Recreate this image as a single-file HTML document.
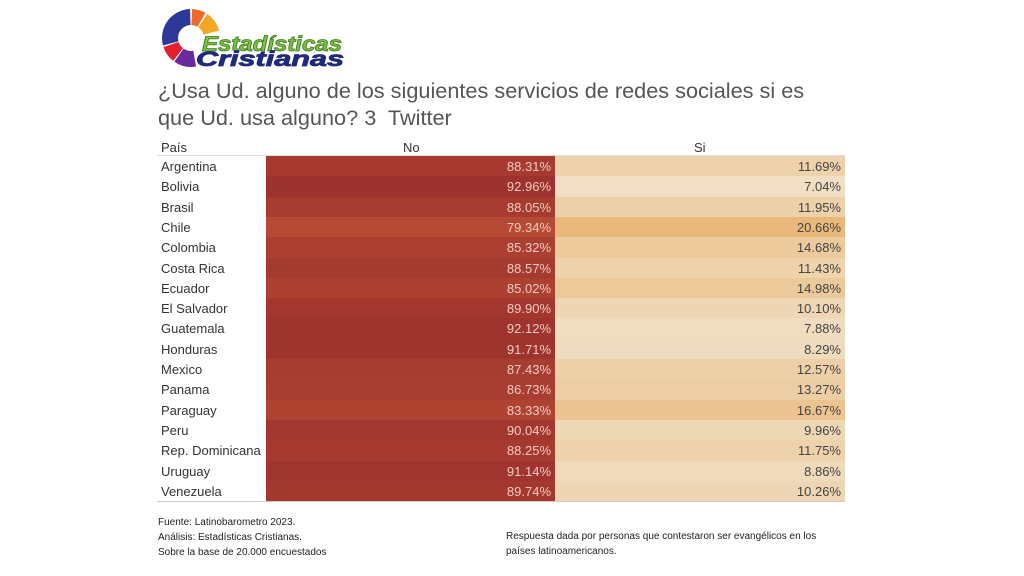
<!DOCTYPE html>
<html><head><meta charset="utf-8">
<style>
html,body{margin:0;padding:0;background:#fff;}
body{width:1024px;height:576px;position:relative;overflow:hidden;font-family:"Liberation Sans",sans-serif;}
.title{position:absolute;left:158px;top:77px;font-size:21.7px;line-height:27px;color:#555;white-space:nowrap;}
.hdr{position:absolute;top:140px;font-size:13px;color:#333;}
.row{position:absolute;left:157px;width:688px;font-size:13px;}
.c{position:absolute;left:4px;top:3px;color:#333;}
.no{position:absolute;left:109px;width:289px;height:100%;}
.si{position:absolute;left:398px;width:290px;height:100%;}
.no span,.si span{position:absolute;right:4px;top:3px;}
.no span{color:#f2c9c0;}
.si span{color:#444;}
.foot{position:absolute;font-size:10px;line-height:15px;color:#222;}
</style></head><body>
<svg style="position:absolute;left:0;top:0" width="360" height="75">
<g transform="translate(191,38)"></g>
<text x="202" y="51" font-family="Liberation Sans" font-weight="bold" font-style="italic" font-size="21" fill="#7cc242" stroke="#3a7a1a" stroke-width="0.8" textLength="140" lengthAdjust="spacingAndGlyphs">Estadísticas</text>
<text x="196" y="66" font-family="Liberation Sans" font-weight="bold" font-style="italic" font-size="21" fill="#1f2a7a" stroke="#1f2a7a" stroke-width="0.8" textLength="148" lengthAdjust="spacingAndGlyphs">Cristianas</text>
</svg>
<div class="title">¿Usa Ud. alguno de los siguientes servicios de redes sociales si es<br>que Ud. usa alguno? 3&nbsp; Twitter</div>
<div class="hdr" style="left:161px">País</div>
<div class="hdr" style="left:403px">No</div>
<div class="hdr" style="left:694px">Si</div>
<div style="position:absolute;left:157px;top:155px;width:688px;height:1px;background:#ddd"></div>
<div id="tbl"></div>
<div style="position:absolute;left:157px;top:501px;width:688px;height:1px;background:#ccc"></div>
<div class="foot" style="left:158px;top:515px">Fuente: Latinobarometro 2023.<br>Análisis: Estadísticas Cristianas.<br>Sobre la base de 20.000 encuestados</div>
<div class="foot" style="left:506px;top:529px">Respuesta dada por personas que contestaron ser evangélicos en los<br>países latinoamericanos.</div>
<script>
function arc(a0,a1,r0,r1,col){
 const R=Math.PI/180,p=(r,a)=>[(r*Math.cos(a*R)).toFixed(2),(r*Math.sin(a*R)).toFixed(2)];
 const [x0,y0]=p(r1,a0),[x1,y1]=p(r1,a1),[x2,y2]=p(r0,a1),[x3,y3]=p(r0,a0);
 const l=(a1-a0)>180?1:0;
 return `<path d="M${x0},${y0}A${r1},${r1} 0 ${l} 1 ${x1},${y1}L${x2},${y2}A${r0},${r0} 0 ${l} 0 ${x3},${y3}Z" fill="${col}"/>`;
}
document.querySelector('g').innerHTML=
 arc(165,268,13,29,'#2b3a9a')+arc(272,300,13,29,'#ee6a2a')+arc(304,345,13,29,'#f5a623')+
 arc(128,162,13,29,'#e5202e')+arc(80,125,13,29,'#6a2b9a');
const d=[["Argentina",88.31],["Bolivia",92.96],["Brasil",88.05],["Chile",79.34],["Colombia",85.32],["Costa Rica",88.57],["Ecuador",85.02],["El Salvador",89.90],["Guatemala",92.12],["Honduras",91.71],["Mexico",87.43],["Panama",86.73],["Paraguay",83.33],["Peru",90.04],["Rep. Dominicana",88.25],["Uruguay",91.14],["Venezuela",89.74]];
const mix=(a,b,t)=>'rgb('+a.map((v,i)=>Math.round(v+(b[i]-v)*t)).join(',')+')';
let h='';
d.forEach((r,i)=>{
 const no=r[1],si=100-no,t=(93-no)/(93-79.3);
 const nc=mix([157,50,46],[182,74,52],t), sc=mix([240,223,197],[233,185,124],t);
 const top=Math.round(156+i*20.3), bot=Math.round(156+(i+1)*20.3);
 h+=`<div class="row" style="top:${top}px;height:${bot-top}px"><div class="c">${r[0]}</div><div class="no" style="background:${nc}"><span>${no.toFixed(2)}%</span></div><div class="si" style="background:${sc}"><span>${si.toFixed(2)}%</span></div></div>`;
});
document.getElementById('tbl').innerHTML=h;
</script>
</body></html>
